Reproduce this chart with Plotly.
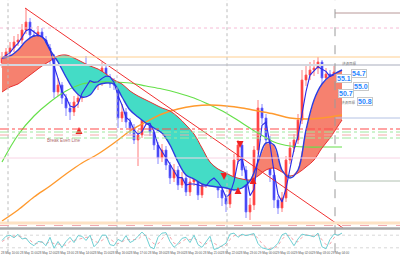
import plotly.graph_objects as go
import pandas as pd

# ---------------- data (price levels, arbitrary units) ----------------
close = [170,176,180,186,188,198,206,193,190,196,
         188,180,170,136,143,130,120,116,126,130,
         148,144,150,143,146,160,150,144,143,110,
         116,106,100,88,93,108,110,96,83,70,
         78,63,50,58,43,50,36,46,50,33,
         43,50,48,52,38,30,24,48,68,83,
         58,16,23,78,120,110,88,53,28,20,
         30,68,80,88,108,148,153,158,160,166,
         150,154,150,156]
high = [176,180,186,192,194,204,220,210,198,202,
        200,192,184,174,150,146,134,126,132,136,
        152,172,156,154,152,166,164,154,150,146,
        124,120,110,104,98,112,120,114,100,86,
        84,82,66,64,62,56,54,50,56,54,
        48,56,54,58,56,42,34,52,74,88,
        86,62,30,82,128,124,114,92,58,32,
        36,72,86,94,114,158,162,166,168,171,
        168,160,158,162]
low = [160,166,172,176,182,184,194,188,184,186,
       182,174,164,130,132,124,112,108,112,120,
       126,138,140,138,138,142,146,140,138,100,
       106,100,94,84,62,90,104,92,78,64,
       66,58,44,46,38,40,32,32,42,28,
       30,40,42,44,30,22,16,20,44,64,
       52,10,8,18,74,104,82,46,20,14,
       16,26,64,76,84,104,142,148,152,154,
       144,146,144,146]
first_open = 165

cloud_bars = list(range(0, 85, 2)) + [85]
span_a = [170,172,178,187,192,191,178,166,151,138,131,133,143,145,144,131,118,111,105,100,
          95,83,66,53,49,44,42,41,40,38,40,47,66,85,83,58,50,58,98,128,144,152,156,158]
span_b = [136,141,144,150,156,162,167,172,173,170,166,162,159,154,148,144,137,132,128,124,
          120,117,111,103,94,80,66,59,55,51,49,48,52,58,60,56,52,55,61,68,80,90,102,108]

ma_bars = list(range(0, 81, 4)) + [85]
ma_green = [66,93,112,126,137,144,146,146,145,142,139,135,130,123,115,105,95,86,82,81,81,81]
ma_orange = [7,18,31,42,54,65,74,85,97,106,114,119,122,123,122,120,117,114,110,109,110,113]

trend_bars = [5.75, 85.25]
trend_vals = [220, 0]

stoch_main = [55,75,80,68,84,62,66,42,30,50,48,30,70,18,50,22,50,70,45,78,
              75,55,80,25,45,80,80,35,30,60,50,78,45,55,75,95,75,25,15,70,
              90,92,50,22,40,65,70,45,80,35,22,50,75,12,18,30,42,85,90,70,
              85,78,82,88,40,20,15,10,22,42,82,90,60,30,62,85,80,78,72,90,
              25,15,60,85,80,90]
stoch_signal = [50,62,72,76,74,72,64,56,40,40,48,40,48,40,38,36,32,50,55,62,
                66,70,70,52,45,55,70,62,48,40,48,60,58,58,60,78,80,60,38,38,
                62,85,72,42,36,48,62,58,66,55,40,38,55,42,30,25,32,60,78,80,
                78,80,80,84,65,40,22,15,18,30,60,80,78,52,48,70,82,78,75,82,
                58,35,38,68,80,85]

session_breaks = [1.5, 28.75, 56.25, 83.25]

# horizontal levels: (value, colour, width, dash)
levels_full = [(200, "#f6bcd6", 1, "dot"),
               (171, "#ffcf90", 1, "solid"),
               (163, "#d4d6de", 2, "solid"),
               (99, "#ff4a4a", 1, "dashdot"),
               (96, "#9ee69e", 1, "dashdot"),
               (93, "#f2a8a8", 1, "dash"),
               (90, "#9ee69e", 1, "dashdot"),
               (70, "#f8d4e4", 1, "solid"),
               (5, "#fde2c4", 3, "solid")]
levels_future = [(215, "#b89898"), (110, "#b4c2e4"), (47, "#b0c0b0")]

arrows = [(19.25, 101, "arrow-up"), (59.5, 80, "arrow-down"), (55.5, 48, "arrow-down"),
          (59.0, 41, "arrow-up"), (62.75, 51, "arrow-up")]

price_tags = [("54.7", 89.25, 155), ("55.1", 85.5, 150), ("55.0", 89.75, 142),
              ("50.7", 86.0, 135), ("50.8", 90.7, 127)]
small_tags = [("決済目標", 86.8, 165), ("決済目標", 86.6, 126)]

tick_labels = ["28 May 10:00", "28 May 11:00", "28 May 12:00", "28 May 13:00", "28 May 14:00",
               "28 May 15:00", "28 May 16:00", "28 May 17:00", "28 May 18:00", "28 May 19:00",
               "28 May 20:00", "28 May 21:00", "28 May 22:00", "28 May 23:00", "29 May 00:00",
               "29 May 01:00", "29 May 02:00", "29 May 03:00", "29 May 04:00"]

# ---------------- figure ----------------
bars = list(range(len(close)))
open_ = [first_open] + close[:-1]
fast_line = pd.Series(close).rolling(3, min_periods=1).mean().tolist()

fig = go.Figure()

def cloud_regions(xs, a, b):
    regions = []
    cx, ca, cb = [xs[0]], [a[0]], [b[0]]
    sign = a[0] >= b[0]
    for k in range(1, len(xs)):
        s = a[k] >= b[k]
        if s != sign:
            d0 = a[k-1] - b[k-1]
            d1 = a[k] - b[k]
            t = d0 / (d0 - d1)
            xc = xs[k-1] + t * (xs[k] - xs[k-1])
            yc = a[k-1] + t * (a[k] - a[k-1])
            cx.append(xc); ca.append(yc); cb.append(yc)
            regions.append((sign, cx, ca, cb))
            cx, ca, cb = [xc], [yc], [yc]
            sign = s
        cx.append(xs[k]); ca.append(a[k]); cb.append(b[k])
    regions.append((sign, cx, ca, cb))
    return regions

for sign, cx, ca, cb in cloud_regions(cloud_bars, span_a, span_b):
    fig.add_trace(go.Scatter(x=cx + cx[::-1], y=ca + cb[::-1], fill="toself",
                             fillcolor="#f6816f" if sign else "#44dcc6",
                             line=dict(width=0), mode="lines", hoverinfo="skip"))

fig.add_trace(go.Scatter(x=ma_bars, y=ma_green, mode="lines", line=dict(color="#66e04a", width=1.2, shape="spline")))
fig.add_trace(go.Scatter(x=ma_bars, y=ma_orange, mode="lines", line=dict(color="#ff9a2e", width=1.4, shape="spline")))
fig.add_trace(go.Scatter(x=cloud_bars, y=span_b, mode="lines", line=dict(color="#e83030", width=1, shape="spline")))
fig.add_trace(go.Scatter(x=cloud_bars, y=span_a, mode="lines", line=dict(color="#2a3ce0", width=1.4, shape="spline")))
fig.add_trace(go.Scatter(x=trend_bars, y=trend_vals, mode="lines", line=dict(color="#f03030", width=1)))

fig.add_trace(go.Candlestick(x=bars, open=open_, high=high, low=low, close=close,
                             increasing=dict(line=dict(color="#ff5a5a", width=0.8), fillcolor="#ff3030"),
                             decreasing=dict(line=dict(color="#6a6aff", width=0.8), fillcolor="#3030f0"),
                             whiskerwidth=0, hoverinfo="skip"))
fig.add_trace(go.Scatter(x=bars, y=fast_line, mode="lines", line=dict(color="#2a2ae8", width=1.1)))

for bx, by, sym in arrows:
    fig.add_trace(go.Scatter(x=[bx], y=[by], mode="markers",
                             marker=dict(symbol=sym, size=7, color="#f02020")))

stoch_bars = list(range(len(stoch_main)))
fig.add_trace(go.Scatter(x=stoch_bars, y=stoch_signal, xaxis="x2", yaxis="y2", mode="lines",
                         line=dict(color="#f4a6ac", width=1, dash="dot")))
fig.add_trace(go.Scatter(x=stoch_bars, y=stoch_main, xaxis="x2", yaxis="y2", mode="lines",
                         line=dict(color="#70d0d4", width=1)))

shapes = []
for v, c, w, d in levels_full:
    shapes.append(dict(type="line", xref="x", yref="y", x0=-0.5, x1=99.5, y0=v, y1=v,
                       line=dict(color=c, width=w, dash=d), layer="above"))
for v, c in levels_future:
    shapes.append(dict(type="line", xref="x", yref="y", x0=session_breaks[-1], x1=99.5, y0=v, y1=v,
                       line=dict(color=c, width=1), layer="above"))
for lv in (20, 80):
    shapes.append(dict(type="line", xref="x2", yref="y2", x0=-0.5, x1=99.5, y0=lv, y1=lv,
                       line=dict(color="#d8d8d8", width=1, dash="dot"), layer="below"))
for i, sb in enumerate(session_breaks):
    last = i == len(session_breaks) - 1
    shapes.append(dict(type="line", xref="x", yref="paper", x0=sb, x1=sb, y0=0.03, y1=1,
                       line=dict(color="#9a9a9a" if last else "#bcbcbc", width=1,
                                 dash="dash" if last else "dot"),
                       layer="above"))
shapes.append(dict(type="line", xref="paper", yref="paper", x0=0, x1=1, y0=1 - 225.5 / 260, y1=1 - 225.5 / 260,
                   line=dict(color="#f0a8b0", width=1, dash="dash")))
shapes.append(dict(type="line", xref="paper", yref="paper", x0=0, x1=1, y0=1 - 228.5 / 260, y1=1 - 228.5 / 260,
                   line=dict(color="#a8a8a8", width=2.5)))

annotations = [dict(x=15.4, y=88, xref="x", yref="y", text="Break Even Line", showarrow=False,
                    font=dict(size=4.5, color="#b07070", family="Arial"))]
for txt, bx, by in small_tags:
    annotations.append(dict(x=bx, y=by, xref="x", yref="y", text=txt, showarrow=False,
                            font=dict(size=3.5, color="#707070", family="Noto Sans CJK JP")))
for txt, bx, by in price_tags:
    annotations.append(dict(x=bx, y=by, xref="x", yref="y", text="<b>%s</b>" % txt, showarrow=False,
                            font=dict(size=7, color="#2a86ff", family="Arial"),
                            bgcolor="white", bordercolor="#c8c8c8", borderwidth=1, borderpad=0))
for k, lab in enumerate(tick_labels):
    annotations.append(dict(x=2.2 + 4.575 * k, y=1 - 256.5 / 260, xref="x", yref="paper", text=lab,
                            showarrow=False, font=dict(size=3, color="#555555", family="Arial")))

fig.update_layout(
    width=400, height=260, margin=dict(l=0, r=0, t=0, b=0),
    paper_bgcolor="white", plot_bgcolor="white", showlegend=False,
    xaxis=dict(domain=[0, 1], range=[-0.5, 99.5], visible=False, rangeslider=dict(visible=False)),
    yaxis=dict(domain=[1 - 228 / 260, 1], range=[0, 228], visible=False),
    xaxis2=dict(domain=[0, 1], range=[-0.5, 99.5], visible=False, anchor="y2"),
    yaxis2=dict(domain=[1 - 252 / 260, 1 - 231 / 260], range=[0, 100], visible=False, anchor="x2"),
    shapes=shapes, annotations=annotations,
)

fig.write_html("out.html")
